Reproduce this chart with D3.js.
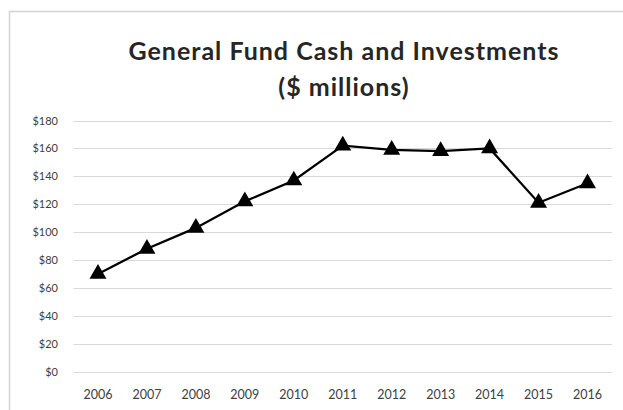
<!DOCTYPE html>
<html>
<head>
<meta charset="utf-8">
<script src="https://d3js.org/d3.v7.min.js"></script>
<style>
  body { margin: 0; background: #fff; }
  svg { display: block; }
</style>
</head>
<body>
<div id="chart"></div>
<script>
// Data
const years = ["2006", "2007", "2008", "2009", "2010", "2011", "2012", "2013", "2014", "2015", "2016"];
const cash = [70, 88, 103, 122, 137, 162, 159, 158, 160, 121, 135];
const yTicks = [0, 20, 40, 60, 80, 100, 120, 140, 160, 180];
const titleLines = ["General Fund Cash and Investments", "($ millions)"];

const width = 623;
const height = 410;
const plot = { left: 73.5, right: 612, top: 120.5, bottom: 371.5 };

const svg = d3.select("#chart")
    .append("svg")
    .attr("width", width)
    .attr("height", height);

// chart frame (runs off the right and bottom of the picture)
svg.append("rect")
    .attr("x", 9.5)
    .attr("y", 11.5)
    .attr("width", 640)
    .attr("height", 420)
    .attr("fill", "#fff")
    .attr("stroke", "#d4d4d4")
    .attr("stroke-width", 1.5);

// title
svg.append("g")
    .selectAll("text")
    .data(titleLines)
    .enter()
    .append("text")
    .attr("x", 344)
    .attr("y", (d, i) => 60 + i * 36)
    .attr("text-anchor", "middle")
    .attr("font-family", "Lato, sans-serif")
    .attr("font-weight", "bold")
    .attr("font-size", "25px")
    .attr("letter-spacing", "1px")
    .attr("fill", "#262626")
    .text(d => d);

const xScale = d3.scaleBand()
    .domain(years)
    .range([plot.left, plot.right]);

const yScale = d3.scaleLinear()
    .domain([0, 180])
    .range([plot.bottom, plot.top]);

// gridlines
svg.append("g")
    .selectAll("line")
    .data(yTicks)
    .enter()
    .append("line")
    .attr("x1", plot.left)
    .attr("x2", plot.right)
    .attr("y1", d => Math.round(yScale(d)) + 0.5)
    .attr("y2", d => Math.round(yScale(d)) + 0.5)
    .attr("stroke", "#d9d9d9")
    .attr("stroke-width", 1);

// y axis labels
const yAxis = d3.axisLeft(yScale)
    .tickValues(yTicks)
    .tickSize(0)
    .tickPadding(0)
    .tickFormat(d => "$" + d);

svg.append("g")
    .attr("id", "y-axis")
    .attr("transform", `translate(58, 0)`)
    .call(yAxis)
    .call(g => g.select(".domain").remove())
    .call(g => g.selectAll("text")
        .attr("font-family", "Lato, sans-serif")
        .attr("font-size", "11px")
        .attr("fill", "#404040"));

// x axis labels
const xAxis = d3.axisBottom(xScale)
    .tickSize(0)
    .tickPadding(0);

svg.append("g")
    .attr("id", "x-axis")
    .attr("transform", `translate(0, ${plot.bottom + 19})`)
    .call(xAxis)
    .call(g => g.select(".domain").remove())
    .call(g => g.selectAll("text")
        .attr("font-family", "Lato, sans-serif")
        .attr("font-size", "12.5px")
        .attr("fill", "#404040"));

// line
const line = d3.line()
    .x((d, i) => xScale(years[i]) + xScale.bandwidth() / 2)
    .y(d => yScale(d));

svg.append("path")
    .datum(cash)
    .attr("d", line)
    .attr("fill", "none")
    .attr("stroke", "#000")
    .attr("stroke-width", 2.25);

// triangle markers
const tri = d3.symbol().type(d3.symbolTriangle).size(125);

svg.append("g")
    .selectAll("path")
    .data(cash)
    .enter()
    .append("path")
    .attr("d", tri)
    .attr("transform", (d, i) => `translate(${xScale(years[i]) + xScale.bandwidth() / 2}, ${yScale(d)})`)
    .attr("fill", "#000");
</script>
</body>
</html>
